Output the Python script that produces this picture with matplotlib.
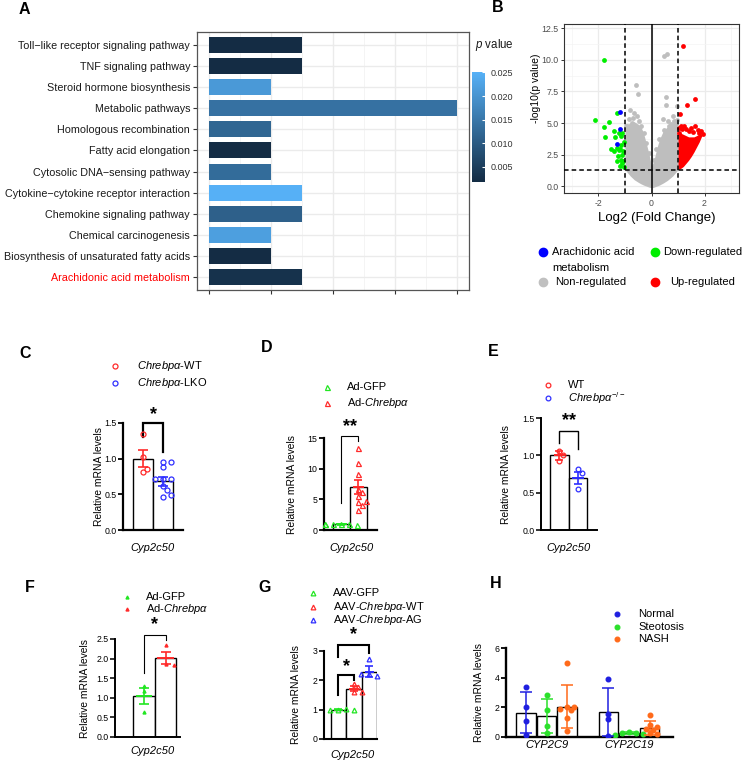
import numpy as np
import matplotlib.pyplot as plt
from matplotlib.colors import LinearSegmentedColormap, Normalize
from matplotlib.colorbar import ColorbarBase

plt.rcParams['font.family'] = ['Liberation Sans', 'DejaVu Sans']
plt.rcParams['mathtext.fontset'] = 'custom'
plt.rcParams['mathtext.rm'] = 'Liberation Sans'
plt.rcParams['mathtext.it'] = 'Liberation Sans:italic'
plt.rcParams['axes.unicode_minus'] = False

W, H = 743, 761

# ---------------- A: KEGG enrichment ----------------
pathways = ["Toll−like receptor signaling pathway", "TNF signaling pathway",
            "Steroid hormone biosynthesis", "Metabolic pathways",
            "Homologous recombination", "Fatty acid elongation",
            "Cytosolic DNA−sensing pathway", "Cytokine−cytokine receptor interaction",
            "Chemokine signaling pathway", "Chemical carcinogenesis",
            "Biosynthesis of unsaturated fatty acids", "Arachidonic acid metabolism"]
gene_counts = [3, 3, 2, 8, 2, 2, 2, 3, 3, 2, 2, 3]
p_values = [0.002, 0.002, 0.021, 0.014, 0.012, 0.002, 0.013, 0.025, 0.011, 0.022, 0.002, 0.003]

# ---------------- B: volcano ----------------
# dense non-regulated cloud (envelope)
cloud_x = [-1.0, -0.9, -0.8, -0.65, -0.5, -0.4, -0.3, -0.2, -0.1, -0.03, 0.0,
           0.05, 0.1, 0.2, 0.3, 0.45, 0.6, 0.8, 1.0]
cloud_lo = [1.3, 1.05, 0.8, 0.5, 0.3, 0.18, 0.08, 0.0, -0.08, -0.12, -0.12,
            -0.12, -0.08, 0.0, 0.08, 0.25, 0.45, 0.8, 1.3]
cloud_hi = [4.8, 4.9, 5.0, 5.1, 4.9, 4.7, 4.2, 3.4, 2.6, 1.9, 1.6,
            1.8, 2.1, 3.0, 3.7, 4.4, 4.7, 5.0, 5.2]
gray_x = [0.48, 0.57, -0.59, -0.50, 0.54, 0.54, 0.95, 0.82, 0.44, 0.61, -0.82, -0.66,
          -0.53, -0.47, -0.91, -0.75, -0.97, -0.40, -0.28, -0.19, -0.11, 0.10, 0.16,
          0.29, 0.48, 0.67, 0.86, 0.98, -0.85, -0.70, 0.75, 0.92]
gray_y = [10.34, 10.47, 8.03, 7.32, 7.05, 6.45, 6.37, 5.53, 5.32, 5.18, 6.05, 5.79,
          5.53, 5.18, 4.74, 5.0, 4.74, 4.74, 4.2, 3.4, 2.6, 2.1, 2.9,
          3.7, 4.47, 4.79, 5.13, 5.26, 5.3, 5.4, 4.95, 5.0]
# dense up-regulated cloud
up_cloud_x = [1.0, 1.1, 1.2, 1.3, 1.4, 1.5, 1.6, 1.7, 1.8, 1.9]
up_cloud_lo = [1.3, 1.4, 1.55, 1.8, 2.05, 2.35, 2.7, 3.1, 3.5, 4.0]
up_cloud_hi = [4.4, 4.2, 4.1, 4.0, 3.9, 3.9, 3.9, 4.0, 4.1, 4.1]
up_x = [1.20, 1.64, 1.34, 1.07, 1.65, 1.87, 1.49, 1.02, 1.24, 1.74, 1.55, 1.30, 1.10,
        1.80, 1.40, 1.93, 1.15, 1.05]
up_y = [11.13, 6.89, 6.45, 5.71, 4.79, 4.34, 4.61, 4.60, 4.74, 4.47, 4.30, 4.50, 4.80,
        4.20, 4.40, 4.10, 4.50, 4.20]
down_x = [-1.79, -2.13, -1.60, -1.31, -1.79, -1.41, -1.22, -1.77, -1.37, -1.16, -1.54,
          -1.41, -1.22, -1.16, -1.25, -1.16, -1.29, -1.12, -1.19, -1.10, -1.07, -1.05,
          -1.08, -1.20, -1.04, -1.12, -1.30]
down_y = [10.0, 5.21, 5.05, 5.76, 4.68, 4.39, 4.21, 3.89, 3.89, 3.95, 2.95,
          2.76, 2.89, 3.29, 2.37, 2.10, 1.97, 1.79, 1.58, 2.50, 2.76, 1.50,
          2.00, 2.90, 3.50, 4.20, 3.05]
aa_x = [-1.19, -1.19, -1.32]
aa_y = [5.89, 4.53, 3.37]

# ---------------- C - H: qPCR ----------------
c_labels = [r"$Chrebp\alpha$-WT", r"$Chrebp\alpha$-LKO"]
c_vals = [[1.35, 1.03, 0.81, 0.85],
          [0.96, 0.95, 0.89, 0.71, 0.71, 0.71, 0.61, 0.56, 0.46, 0.49]]
c_mean = [1.0, 0.68]
c_err = [0.12, 0.06]

d_labels = ["Ad-GFP", r"Ad-$Chrebp\alpha$"]
d_vals = [[1.0, 0.95, 0.9, 0.85, 0.95, 0.9],
          [13.4, 11.0, 9.2, 6.7, 6.2, 5.6, 4.6, 4.8, 4.1, 3.2]]
d_mean = [0.9, 7.0]
d_err = [0.05, 1.15]

e_labels = ["WT", r"$Chrebp\alpha^{-/-}$"]
e_vals = [[1.06, 1.01, 0.93], [0.82, 0.76, 0.55]]
e_mean = [1.0, 0.70]
e_err = [0.06, 0.08]

f_labels = ["Ad-GFP", r"Ad-$Chrebp\alpha$"]
f_vals = [[1.31, 1.18, 0.645], [2.34, 1.86, 1.84]]
f_mean = [1.04, 2.01]
f_err = [0.2, 0.16]

g_labels = ["AAV-GFP", r"AAV-$Chrebp\alpha$-WT", r"AAV-$Chrebp\alpha$-AG"]
g_vals = [[1.0, 1.01, 0.99, 1.0], [1.89, 1.78, 1.6, 1.6], [2.72, 2.2, 2.15, 2.2]]
g_mean = [1.0, 1.72, 2.3]
g_err = [0.01, 0.08, 0.18]

h_genes = ["CYP2C9", "CYP2C19"]
h_groups = ["Normal", "Steotosis", "NASH"]
h_vals = [[[3.37, 2.03, 1.1, 0.15], [2.8, 1.85, 0.75, 0.3],
           [5.0, 2.05, 2.05, 1.9, 1.8, 1.25, 0.4]],
          [[3.9, 1.55, 1.2, 0.1], [0.35, 0.3, 0.25, 0.2, 0.15],
           [1.5, 0.8, 0.7, 0.55, 0.5, 0.25, 0.2]]]
h_mean = [[1.65, 1.42, 2.05], [1.7, 0.25, 0.6]]
h_sd = [[1.38, 1.13, 1.43], [1.6, 0.08, 0.45]]

RED, BLUE, GREEN = '#FF2A2A', '#2F2FFF', '#22E622'
H_COLORS = ['#1F1FE0', '#2BE02B', '#FF6A1A']

fig = plt.figure(figsize=(W / 100, H / 100), dpi=100)


def px_ax(x0, y0, x1, y1):
    return fig.add_axes([x0 / W, 1 - y1 / H, (x1 - x0) / W, (y1 - y0) / H])


def swarm(vals, px_x, px_y, d=5.0):
    # simple deterministic beeswarm, offsets returned in data units
    placed, out = [], []
    for v in vals:
        y = v * px_y
        for k in (0, 1, -1, 2, -2, 3, -3, 4, -4):
            x = k * d * 0.8
            if all(np.hypot(x - a, y - b) >= d * 0.95 for a, b in placed):
                break
        placed.append((x, y))
        out.append(x / px_x)
    return np.array(out)


# ======================= Panel A =======================
axA = px_ax(197, 32, 469, 290)
cmap = LinearSegmentedColormap.from_list('pv', ['#132B43', '#56B1F7'])
norm = Normalize(0.0018, 0.0251)
ypos = np.arange(len(pathways))[::-1]
axA.barh(ypos, gene_counts, height=0.75, color=cmap(norm(p_values)), zorder=3)
axA.set_xlim(-0.4, 8.4)
axA.set_ylim(-0.6, 11.6)
axA.set_xticks([0, 2, 4, 6, 8])
axA.set_xticklabels([])
axA.set_xticks([1, 3, 5, 7], minor=True)
axA.set_yticks(ypos)
axA.set_yticklabels(pathways, fontsize=7.75, color='#1A1A1A')
for lbl in axA.get_yticklabels():
    if lbl.get_text().startswith('Arachidonic'):
        lbl.set_color('red')
axA.grid(True, which='major', color='#EBEBEB', lw=1.0)
axA.grid(True, which='minor', axis='x', color='#F3F3F3', lw=0.6)
axA.set_axisbelow(True)
for s in axA.spines.values():
    s.set_color('#555555')
    s.set_linewidth(0.9)
axA.tick_params(which='major', length=3, color='#333333', width=0.8, pad=2)
axA.tick_params(which='minor', length=0)

cax = px_ax(472, 72, 485, 182)
cb = ColorbarBase(cax, cmap=cmap, norm=norm, ticks=[0.005, 0.010, 0.015, 0.020, 0.025])
cb.outline.set_visible(False)
cax.set_yticklabels(['0.005', '0.010', '0.015', '0.020', '0.025'])
cax.tick_params(labelsize=6.5, length=2.5, width=0.8, color='white', direction='in',
                pad=4, labelcolor='#333333')

# ======================= Panel B =======================
axB = px_ax(564, 24, 739, 193)
axB.fill_between(cloud_x, cloud_lo, cloud_hi, color='#BEBEBE', lw=0, zorder=2)
axB.scatter(gray_x, gray_y, s=12, color='#BEBEBE', lw=0, zorder=2)
axB.fill_between(up_cloud_x, up_cloud_lo, up_cloud_hi, color='#FF0000', lw=0, zorder=2)
axB.scatter(up_x, up_y, s=12, color='#FF0000', lw=0, zorder=2)
axB.scatter(down_x, down_y, s=12, color='#00EE00', lw=0, zorder=2)
axB.scatter(aa_x, aa_y, s=12, color='#0000FF', lw=0, zorder=3)
axB.axvline(0, color='black', lw=1.1, zorder=4)
for xv in (-1, 1):
    axB.axvline(xv, color='black', lw=1.1, ls=(0, (3, 2)), zorder=4)
axB.axhline(1.3, color='black', lw=1.1, ls=(0, (3, 2)), zorder=4)
axB.set_xlim(-3.3, 3.3)
axB.set_ylim(-0.55, 12.85)
axB.set_xticks([-2, 0, 2])
axB.set_xticks([-3, -1, 1, 3], minor=True)
axB.set_yticks([0, 2.5, 5, 7.5, 10, 12.5])
axB.set_yticklabels(['0.0', '2.5', '5.0', '7.5', '10.0', '12.5'])
axB.set_yticks([1.25, 3.75, 6.25, 8.75, 11.25], minor=True)
axB.grid(True, which='major', color='#EBEBEB', lw=0.9)
axB.grid(True, which='minor', color='#F4F4F4', lw=0.5)
axB.set_axisbelow(True)
for s in axB.spines.values():
    s.set_color('#333333')
    s.set_linewidth(0.8)
axB.tick_params(which='major', labelsize=6.3, labelcolor='#4D4D4D', length=2.5,
                color='#333333', width=0.7, pad=1.5)
axB.tick_params(which='minor', length=0)


# ======================= bar/dot panels =======================
def dot_panel(box, xlim, ylim, yticks, yticklabels, vals, means, errs, colors,
              marker, filled, ms, cap, mean_w, spine_lw=1.5, width=1.0, positions=None):
    ax = px_ax(*box)
    px_x = (box[2] - box[0]) / (xlim[1] - xlim[0])
    px_y = (box[3] - box[1]) / (ylim[1] - ylim[0])
    if positions is None:
        positions = range(len(vals))
    for i, v, m, e, c in zip(positions, vals, means, errs, colors):
        ax.bar(i, m, width=width, color='white', edgecolor='black', lw=1.0, zorder=1)
        offs = swarm(v, px_x, px_y)
        ax.plot(i + offs, v, ls='none', marker=marker, ms=ms,
                mfc=c if filled else 'none', mec=c, mew=0.9, zorder=3, clip_on=False)
        ax.errorbar(i, m, yerr=e, color=c, capsize=cap, lw=1.2, capthick=1.2,
                    zorder=4, fmt='none')
        if mean_w:
            ax.hlines(m, i - mean_w, i + mean_w, color=c, lw=1.4, zorder=4)
    ax.set_xlim(*xlim)
    ax.set_ylim(*ylim)
    ax.set_yticks(yticks)
    ax.set_yticklabels(yticklabels)
    ax.set_xticks([])
    for s in ('top', 'right'):
        ax.spines[s].set_visible(False)
    for s in ('left', 'bottom'):
        ax.spines[s].set_linewidth(spine_lw)
    ax.tick_params(axis='y', length=3.5, width=spine_lw * 0.8, labelsize=6.3, pad=1.2)
    ax.patch.set_alpha(0)
    return ax


def bracket(ax, x0, x1, y_left, y_top, y_right, label, ystar, lw=1.5, fs=13):
    ax.plot([x0, x0, x1, x1], [y_left, y_top, y_top, y_right], color='black', lw=lw,
            clip_on=False, solid_joinstyle='miter')
    ax.text((x0 + x1) / 2, ystar, label, ha='center', va='center', fontsize=fs,
            fontweight='bold', clip_on=False)


# C
axC = dot_panel((123, 423, 183, 530), (-1, 2), (0, 1.5), [0, 0.5, 1.0, 1.5],
                ['0.0', '0.5', '1.0', '1.5'], c_vals, c_mean, c_err, [RED, BLUE],
                'o', False, 3.6, 3.6, 0, spine_lw=1.6)
bracket(axC, 0, 1, 1.3, 1.5, 1.1, '*', 1.62, lw=1.6)

# D
axD = dot_panel((324, 438, 377, 530), (-1.03, 2.09), (0, 15), [0, 5, 10, 15],
                ['0', '5', '10', '15'], d_vals, d_mean, d_err, [GREEN, RED],
                '^', False, 3.6, 3.0, 0.3, spine_lw=1.6)
bracket(axD, 0, 1, 4.4, 15.4, 14.5, '**', 16.9, lw=0.8)

# E
axE = dot_panel((541, 418, 597, 530), (-1.0, 2.03), (0, 1.5), [0, 0.5, 1.0, 1.5],
                ['0.0', '0.5', '1.0', '1.5'], e_vals, e_mean, e_err, [RED, BLUE],
                'o', False, 3.4, 3.0, 0.3, spine_lw=1.4)
bracket(axE, 0, 1, 1.16, 1.32, 1.08, '**', 1.47, lw=1.0)

# F
axF = dot_panel((115, 639, 180, 737), (-1.35, 1.67), (0, 2.5), [0, 0.5, 1.0, 1.5, 2.0, 2.5],
                ['0.0', '0.5', '1.0', '1.5', '2.0', '2.5'], f_vals, f_mean, f_err,
                [GREEN, RED], '^', True, 2.2, 3.6, 0.38, spine_lw=1.4)
bracket(axF, 0, 1, 1.62, 2.6, 2.47, '*', 2.86, lw=0.8)

# G
axG = dot_panel((324, 651, 377, 739), (-0.94, 2.5), (0, 3), [0, 1, 2, 3],
                ['0', '1', '2', '3'], g_vals, g_mean, g_err, [GREEN, RED, BLUE],
                '^', False, 3.4, 3.0, 0.3, spine_lw=1.5)
bracket(axG, 0, 1, 1.5, 2.18, 2.0, '*', 2.48, lw=1.5)
bracket(axG, 0, 2, 2.8, 3.22, 2.94, '*', 3.56, lw=1.5)

# H
axH = px_ax(506, 648, 673, 737)
hx_lim, hy_lim = (-1.97, 6.14), (0, 6)
hpx_x = (673 - 506) / (hx_lim[1] - hx_lim[0])
hpx_y = (737 - 648) / (hy_lim[1] - hy_lim[0])
for g in range(len(h_genes)):
    for k in range(len(h_groups)):
        pos = 4 * g + (k - 1)
        c = H_COLORS[k]
        v = h_vals[g][k]
        axH.bar(pos, h_mean[g][k], width=0.95, color='white', edgecolor='black', lw=1.0,
                zorder=1)
        offs = swarm(v, hpx_x, hpx_y, d=4.5)
        axH.plot(pos + offs, v, ls='none', marker='o', ms=3.3, mfc=c, mec=c, zorder=3)
        axH.errorbar(pos, h_mean[g][k], yerr=h_sd[g][k], color=c, capsize=4.2, lw=1.1,
                     capthick=1.1, fmt='none', zorder=4)
axH.set_xlim(*hx_lim)
axH.set_ylim(*hy_lim)
axH.set_yticks([0, 2, 4, 6])
axH.set_xticks([0, 4])
axH.set_xticklabels(h_genes, fontsize=8, fontstyle='italic')
for s in ('top', 'right'):
    axH.spines[s].set_visible(False)
for s in ('left', 'bottom'):
    axH.spines[s].set_linewidth(1.7)
axH.tick_params(axis='y', length=3.5, width=1.3, labelsize=6.3, pad=1.2)
axH.tick_params(axis='x', length=0, pad=2)
axH.patch.set_alpha(0)

# ======================= overlay: letters, legends, labels =======================
ov = fig.add_axes([0, 0, 1, 1])
ov.set_xlim(0, W)
ov.set_ylim(H, 0)
ov.axis('off')

for letter, (lx, ly) in zip('ABCDEFGH', [(24, 9), (498, 8), (25, 353), (267, 348),
                                         (493, 351), (30, 588), (265, 588), (496, 583)]):
    ov.text(lx, ly, letter, fontsize=11.5, fontweight='bold', ha='center', va='center')

ov.text(475, 45, '$p$ value', fontsize=8.3, va='center', ha='left', color='#1A1A1A')

# volcano labels and legend
ov.text(657, 218, 'Log2 (Fold Change)', fontsize=9.5, ha='center', va='center')
ov.text(536, 88, '-log10(p value)', fontsize=7.5, rotation=90, ha='center', va='center')
vleg = [((543, 252), '#0000FF'), ((655, 252), '#00EE00'),
        ((543, 282), '#C0C0C0'), ((655, 282), '#FF0000')]
for (mx, my), c in vleg:
    ov.plot(mx, my, 'o', ms=6, color=c)
ov.text(552, 252, 'Arachidonic acid', fontsize=8, va='center')
ov.text(552, 268, 'metabolism', fontsize=8, va='center')
ov.text(663, 252, 'Down-regulated', fontsize=8, va='center')
ov.text(555, 282, 'Non-regulated', fontsize=8, va='center')
ov.text(670, 282, 'Up-regulated', fontsize=8, va='center')


def legend(x, ys, labels, colors, marker, filled, ms, tx):
    for y, lab, c in zip(ys, labels, colors):
        ov.plot(x, y, marker=marker, ms=ms, mfc=c if filled else 'none', mec=c, mew=0.9)
        ov.text(tx, y, lab, fontsize=8, va='center')


legend(115, [366, 383], c_labels, [RED, BLUE], 'o', False, 3.6, 137)
legend(327, [387, 403], d_labels, [GREEN, RED], '^', False, 3.6, 347)
legend(548, [385, 398], e_labels, [RED, BLUE], 'o', False, 3.4, 568)
legend(127, [597, 609], f_labels, [GREEN, RED], '^', True, 2.2, 146)
legend(313, [593, 607, 620], g_labels, [GREEN, RED, BLUE], '^', False, 3.4, 333)
legend(617, [614, 627, 639], h_groups, H_COLORS, 'o', True, 3.4, 638)

for gx, gy in [(153, 548), (352, 548), (569, 548), (153, 751), (353, 755)]:
    ov.text(gx, gy, 'Cyp2c50', fontsize=8, fontstyle='italic', ha='center', va='center')

for yx, yy in [(99, 476), (292, 484), (506, 474), (85, 688), (296, 695), (479, 692)]:
    ov.text(yx, yy, 'Relative mRNA levels', fontsize=7.4, rotation=90,
            ha='center', va='center')

fig.savefig('out.png', dpi=100)
